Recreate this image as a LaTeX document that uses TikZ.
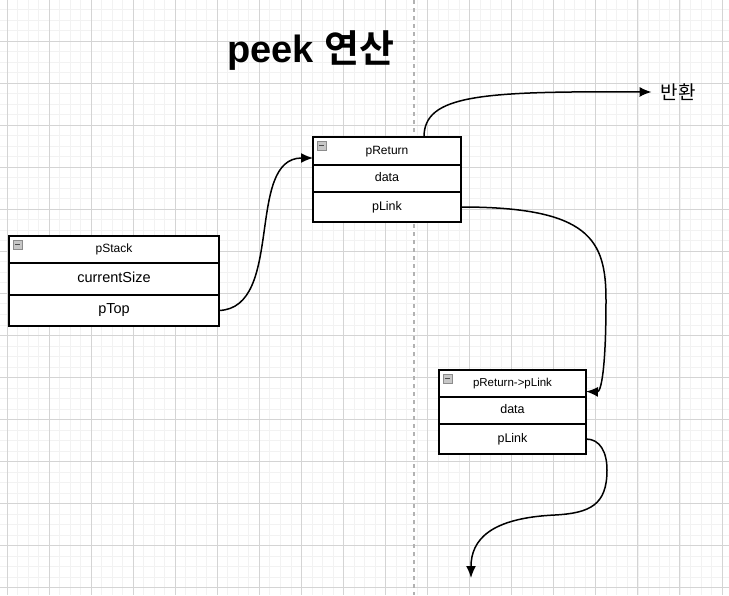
\documentclass[tikz,border=0pt]{standalone}
\usepackage{fontspec}
\setmainfont{Liberation Sans}
\newfontfamily\kofont{Noto Sans CJK KR}[BoldFont={Noto Sans CJK KR Bold}]
\usetikzlibrary{positioning, arrows.meta}

\begin{document}
\begin{tikzpicture}[x=1pt, y=-1pt, node distance=0pt, outer sep=0pt,
    minorline/.style={draw=black!5, line width=0.8pt},
    majorline/.style={draw=black!17, line width=1pt},
    divider/.style={draw=black!30, line width=1.2pt, dash pattern=on 4pt off 4pt},
    header/.style={draw, line width=1.9pt, fill=white, minimum height=27pt, inner sep=0pt,
      text height=1.5ex, text depth=.3ex, font=\fontsize{12}{14}\selectfont},
    field/.style={header, font=\fontsize{12.5}{15}\selectfont},
    icon/.style={draw=black!45, fill=black!22, line width=0.7pt, minimum size=9pt, inner sep=0pt,
      path picture={\draw[black!70, line width=1pt]
        ([xshift=1.8pt]path picture bounding box.west) -- ([xshift=-1.8pt]path picture bounding box.east);}},
    conn/.style={-{Latex[length=12pt,width=10pt]}, line width=1.5pt}]
  \useasboundingbox[fill=white] (0,0) rectangle (729,595);

  \foreach \i in {-1,...,69}
    \draw[minorline] ({7+10.515*\i},0) -- ({7+10.515*\i},595);
  \foreach \j in {-4,...,53}
    \draw[minorline] (0,{41+10.515*\j}) -- (729,{41+10.515*\j});
  \foreach \i in {0,...,17}
    \draw[majorline] ({7+42.06*\i},0) -- ({7+42.06*\i},595);
  \foreach \j in {-1,...,13}
    \draw[majorline] (0,{41+42.06*\j}) -- (729,{41+42.06*\j});
  \draw[divider] (414,0) -- (414,595);

  \node[font=\fontsize{38}{44}\selectfont\bfseries] (title) at (311,51) {peek {\kofont 연산}};

  \node[header, minimum width=210pt, anchor=north west] (stackhead) at (9,236) {pStack};
  \node[field, minimum width=210pt, minimum height=32pt, font=\fontsize{14.5}{17}\selectfont] (stacksize) [below=of stackhead] {currentSize};
  \node[field, minimum width=210pt, minimum height=31pt, font=\fontsize{14.5}{17}\selectfont] (stacktop) [below=of stacksize] {pTop};
  \node[icon, anchor=north west] (stackicon) at ([xshift=4pt,yshift=-4pt]stackhead.north west) {};

  \node[header, minimum width=148pt, minimum height=28pt, anchor=north west] (rethead) at (313,137) {pReturn};
  \node[field, minimum width=148pt] (retdata) [below=of rethead] {data};
  \node[field, minimum width=148pt, minimum height=30pt] (retlink) [below=of retdata] {pLink};
  \node[icon, anchor=north west] (reticon) at ([xshift=4pt,yshift=-4pt]rethead.north west) {};

  \node[header, minimum width=147pt, anchor=north west, font=\fontsize{11.5}{14}\selectfont] (nexthead) at (439,370) {pReturn->pLink};
  \node[field, minimum width=147pt] (nextdata) [below=of nexthead] {data};
  \node[field, minimum width=147pt, minimum height=30pt] (nextlink) [below=of nextdata] {pLink};
  \node[icon, anchor=north west] (nexticon) at ([xshift=4pt,yshift=-4pt]nexthead.north west) {};

  \node[font=\kofont\fontsize{19}{22}\selectfont, inner sep=0pt, inner xsep=9pt] (ret) at (678,92) {반환};
  \coordinate (tail) at (471,578);

  \draw[conn] (stacktop.east) .. controls (285,308) and (245,158) .. ([yshift=-7pt]rethead.west);
  \draw[conn] ([xshift=37pt]rethead.north) .. controls (424,95) and (480,91) .. (ret.west);
  \draw[conn] (retlink.east) .. controls (590,207) and (606,240) .. (606,300)
    .. controls (606,370) and (601,392) .. ([yshift=-8pt]nexthead.east);
  \draw[conn] (nextlink.east) .. controls (600,439) and (607,452) .. (607,470)
    .. controls (607,505) and (590,513) .. (555,515)
    .. controls (490,518) and (471,540) .. (tail);
\end{tikzpicture}
\end{document}
